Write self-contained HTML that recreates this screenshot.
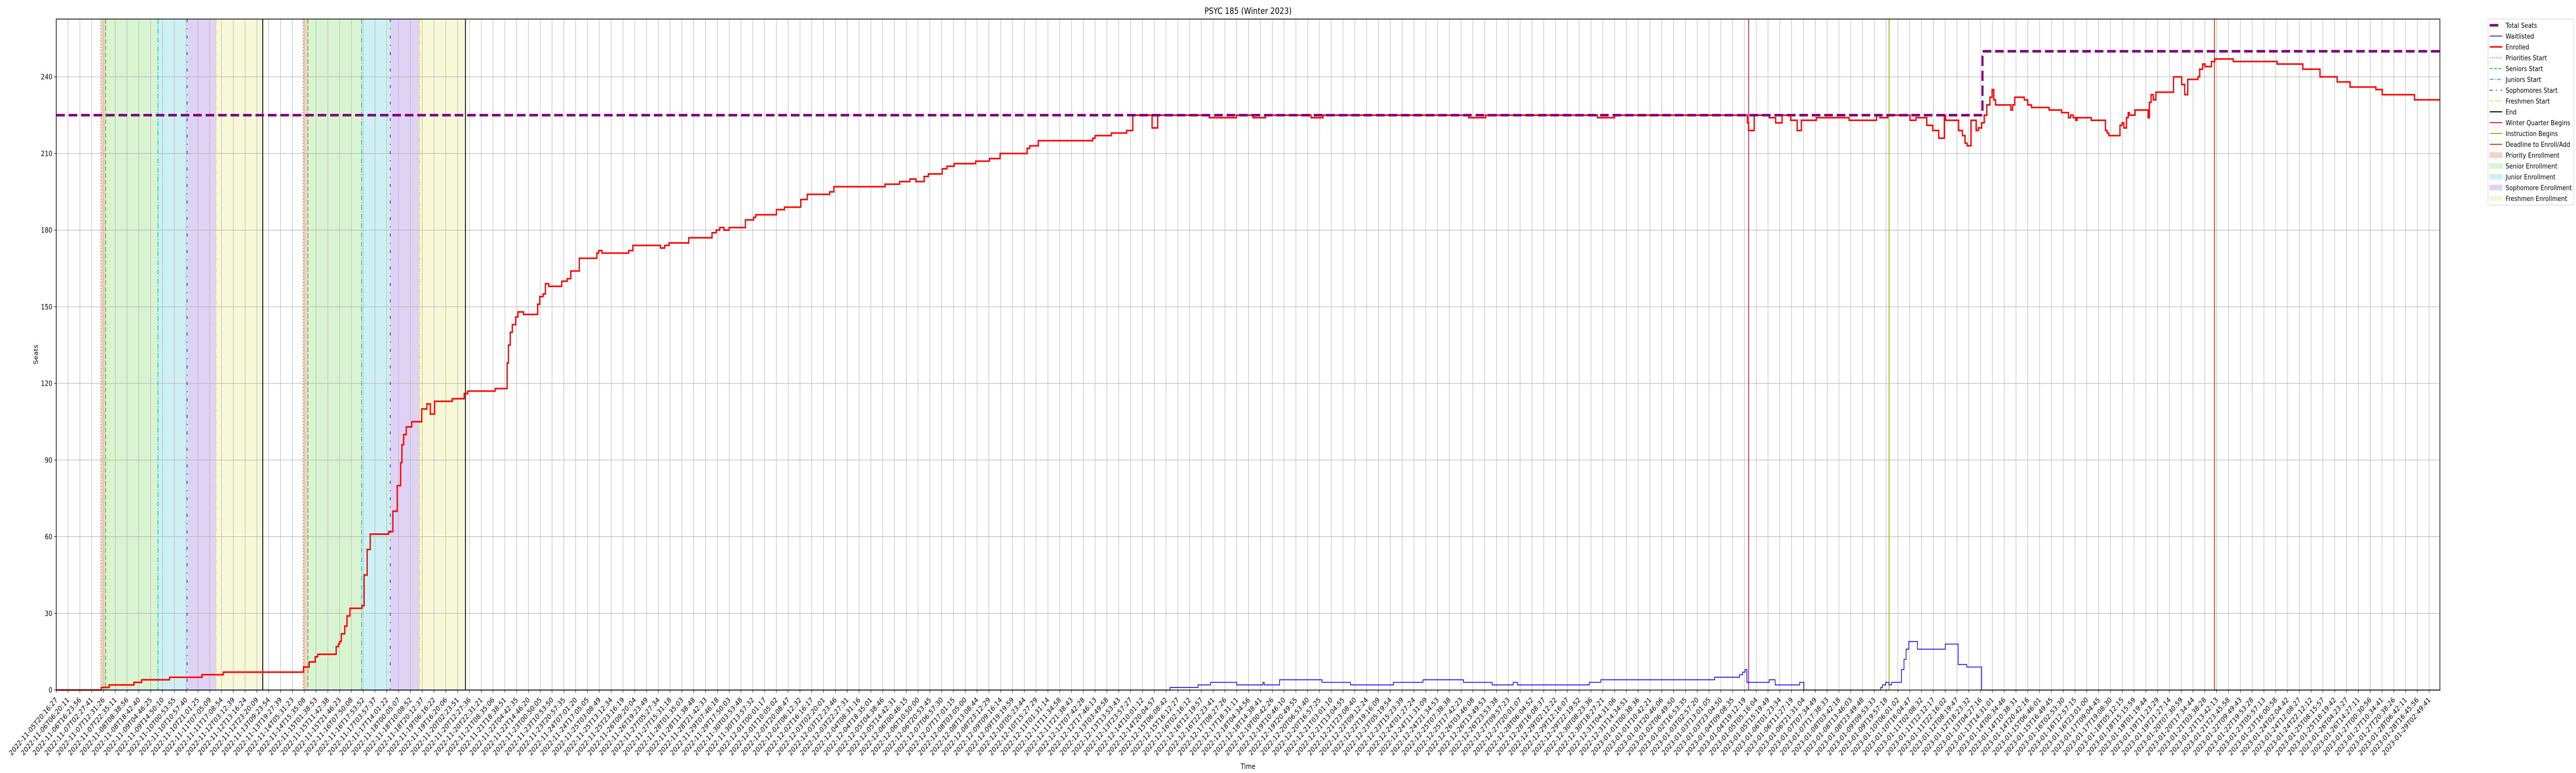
<!DOCTYPE html>
<html><head><meta charset="utf-8"><style>
html,body{margin:0;padding:0;background:#fff;overflow:hidden;width:100%;height:100%;}
svg{display:block;width:100vw;height:100vh;font-family:"DejaVu Sans","Liberation Sans",sans-serif;}
</style></head><body>
<svg id="chart" xmlns="http://www.w3.org/2000/svg" viewBox="0 0 6000 1500" preserveAspectRatio="none">
<rect x="0" y="0" width="6000" height="1500" fill="#fff"/>
<g id="shades"></g>
<g id="grid"></g>
<g id="vlines"></g>
<g id="series"></g>
<rect x="131" y="37" width="5552" height="1302" fill="none" stroke="#000" stroke-width="1.5"/>
<g id="axes"></g>
<text x="2907" y="27" font-size="17" text-anchor="middle">PSYC 185 (Winter 2023)</text>
<text x="2907" y="1492" font-size="14" text-anchor="middle">Time</text>
<text transform="translate(88,688) rotate(-90)" font-size="14" text-anchor="middle">Seats</text>
<g id="legend"></g>
</svg>
<script>
// ---- data (x in hours since 2022-11-05T20:16:27) ----
const enrolledT = [0,38.1,38.4,45.0,66.2,72.8,96.6,124.1,142.4,210.8,215.6,220.7,222.9,238.6,240.5,241.6,243.0,245.9,247.8,250.3,260.6,262.4,265.0,267.6,283.3,286.9,290.6,293.5,294.6,296.1,298.3,303.0,311.5,315.9,318.8,322.4,337.5,347.7,350.6,374.1,384.3,385.4,386.9,388.7,391.6,393.5,398.2,410.3,412.1,415.0,416.9,419.8,430.8,435.5,438.5,445.8,460.8,462.3,465.2,487.9,491.5,515.0,518.6,522.3,539.1,558.9,562.5,565.5,569.1,573.5,587.4,594.4,596.2,613.8,620.7,634.6,640.1,659.2,662.8,706.4,718.8,727.6,732.7,739.7,743.3,755.1,759.1,765.3,783.6,795.3,804.5,827.5,829.7,837.0,883.5,885.4,899.3,912.4,917.6,934.0,938.8,982.7,1005.9,1020.0,1030.7,1069.5,1079.7,1203.8,1218.4,1313.6,1328.2,1437.0,1441.4,1442.4,1447.2,1460.0,1465.5,1471.0,1478.3,1483.8,1487.4,1500.2,1528.1,1551.5,1554.4,1561.0,1580.0,1585.1,1594.3,1599.4,1604.5,1609.3,1610.4,1621.4,1624.7,1626.9,1628.7,1632.0,1636.4,1638.2,1641.1,1643.3,1645.5,1648.1,1650.0,1651.4,1652.9,1666.0,1667.5,1669.3,1677.4,1680.3,1683.6,1698.6,1709.2,1715.1,1716.9,1719.1,1721.3,1722.4,1734.5,1746.6,1748.0,1749.5,1759.0,1760.8,1762.3,1764.5,1766.0,1767.0,1771.8,1783.0,1784.0,1785.5,1787.4,1789.6,1804.6,1811.6,1814.2,1816.7,1825.5,1826.9,1829.5,1831.4,1836.9,1839.8,1855.5,1892.9,1914.8,1929.5,1944.1,1955.1,1977.1,1982.5,2010.0,2032.0];
const enrolledV = [0,0,1,2,3,4,5,6,7,9,11,13,14,17,18,19,22,25,29,32,33,45,55,61,62,70,80,89,96,100,103,105,110,112,108,113,114,116,117,118,128,135,140,143,146,148,147,151,154,155,159,158,160,161,164,169,171,172,171,172,174,173,174,175,177,179,180,181,180,181,184,185,186,188,189,192,194,195,197,198,199,200,199,201,202,204,205,206,207,208,210,212,213,215,216,217,218,219,225,220,225,224,225,224,225,224,225,224,225,224,225,225,222,219,225,224,222,225,223,219,223,224,223,225,224,225,223,224,221,219,216,225,223,219,217,214,213,223,219,220,222,225,229,232,235,231,229,227,229,232,231,229,228,227,226,224,225,224,223,224,223,219,218,217,221,222,220,224,226,225,227,224,230,233,231,234,240,237,233,239,240,243,245,244,246,247,246,245,243,240,238,236,235,233,231,231];
const waitT = [0,949.4,973.2,983.8,1006.1,1028.5,1029.6,1042.7,1078.9,1103.1,1139.7,1164.9,1199.4,1223.9,1241.8,1245.5,1306.6,1316.5,1413.5,1434.7,1437.3,1439.5,1441.0,1460.0,1465.1,1486.0,1489.6,1555.1,1556.6,1559.2,1562.1,1564.3,1572.7,1574.9,1576.7,1579.0,1586.3,1610.1,1621.1,1628.4,1641.1,2032.0];
const waitV = [0,1,2,3,2,3,2,4,3,2,3,4,3,2,3,2,3,4,5,6,7,8,3,4,2,3,0,1,2,3,2,3,8,12,16,19,16,18,10,9,0,0];
const seatsT = [0,1641.8,2032.0];
const seatsV = [225,250,250];
const yTicks = [0,30,60,90,120,150,180,210,240];
const tickStartLabel = "2022-11-05T20:16:27";
const tickEndLabel = "2023-01-29T02:49:41";
const tickCount = 202;
// markers (hours)
const priorityStarts = [38.1,210.5];
const seniorStarts = [42.1,214.5];
const juniorStarts = [86.7,260.2];
const sophStarts = [111.6,284.7];
const freshStarts = [136.2,309.6];
const endTimes = [176.0,348.8];
const winterBegins = [1442.4];
const instructionBegins = [1562.2];
const deadlineAdd = [1839.5];

// ---- axes ----
const X0=131, X1=5683, Y0=1339, Y1=37;
const HMAX=(X1-X0)*0.36594, VMAX=(Y0-Y1)/4.958;
const xs = h => X0 + h/HMAX*(X1-X0);
const ys = v => Y0 - v/VMAX*(Y0-Y1);
const NS="http://www.w3.org/2000/svg";
function mk(tag, parent, attrs){const e=document.createElementNS(NS,tag);for(const k in attrs)e.setAttribute(k,attrs[k]);parent.appendChild(e);return e;}
const G=id=>document.getElementById(id);

// shaded regions
const shadeSets=[[priorityStarts,seniorStarts,'#f4d3c4','priority-enrollment-region'],[seniorStarts,juniorStarts,'#d8f4d0','senior-enrollment-region'],[juniorStarts,sophStarts,'#cff0f2','junior-enrollment-region'],[sophStarts,freshStarts,'#e0d2f4','sophomore-enrollment-region'],[freshStarts,endTimes,'#f7f8d8','freshmen-enrollment-region']];
shadeSets.forEach(s=>{for(let i=0;i<s[0].length;i++){const r=mk('rect',G('shades'),{x:xs(s[0][i]),y:Y1,width:xs(s[1][i])-xs(s[0][i]),height:Y0-Y1,fill:s[2]});

}});

// grid + ticks
const tStart=Date.UTC(2022,10,5,20,16,27), tEnd=Date.UTC(2023,0,29,2,49,41);
function fmt(ms){const d=new Date(ms);const p=n=>String(n).padStart(2,'0');return d.getUTCFullYear()+'-'+p(d.getUTCMonth()+1)+'-'+p(d.getUTCDate())+'T'+p(d.getUTCHours())+':'+p(d.getUTCMinutes())+':'+p(d.getUTCSeconds());}
for(let i=0;i<tickCount;i++){
  const x=X0+i*27.4975;
  const gl=mk('line',G('grid'),{x1:x,x2:x,y1:Y1,y2:Y0,stroke:'#b0b0b0','stroke-width':1});
  
  
  const tk=mk('line',G('axes'),{x1:x,x2:x,y1:Y0,y2:Y0+5,stroke:'#000','stroke-width':1});
  
  
  const lab = i===0?tickStartLabel:(i===tickCount-1?tickEndLabel:fmt(tStart+(tEnd-tStart)*i/(tickCount-1)));
  const t=mk('text',G('axes'),{transform:`translate(${x+4},1359) rotate(-45)`,'font-size':14,'text-anchor':'end'});
  t.textContent=lab;
  
  
}
yTicks.forEach(v=>{const y=ys(v);
  const gl=mk('line',G('grid'),{x1:X0,x2:X1,y1:y,y2:y,stroke:'#b0b0b0','stroke-width':1});
  
  
  const tk=mk('line',G('axes'),{x1:X0-5,x2:X0,y1:y,y2:y,stroke:'#000','stroke-width':1});
  
  
  const t=mk('text',G('axes'),{x:X0-9,y:y+5,'font-size':14,'text-anchor':'end'});t.textContent=v;
  
  
});

// vertical marker lines
const vSets=[[priorityStarts,'#e8743b','2,4',2,'priorities-start-line'],[seniorStarts,'#44cc22','9,4',2,'seniors-start-line'],[juniorStarts,'#1cc8d4','10,3,2,3',2,'juniors-start-line'],[sophStarts,'#6a2ee0','6,12,2,12',2,'sophomores-start-line'],[freshStarts,'#e2e03a','8,3,2,3,2,3',2,'freshmen-start-line'],[endTimes,'#000','',2,'end-line'],[winterBegins,'#e0169e','',2,'winter-quarter-begins-line'],[instructionBegins,'#8db814','',2,'instruction-begins-line'],[deadlineAdd,'#d0451f','',2,'deadline-line']];
vSets.forEach(s=>s[0].forEach(h=>{const a={x1:xs(h),x2:xs(h),y1:Y1,y2:Y0,stroke:s[1],'stroke-width':s[3]};if(s[2])a['stroke-dasharray']=s[2];const l=mk('line',G('vlines'),a);

}));

// step paths
function stepPath(T,V){let d=`M${xs(T[0])},${ys(V[0])}`;for(let i=1;i<T.length;i++){d+=`H${xs(T[i])}V${ys(V[i])}`;}return d;}
const wp=mk('path',G('series'),{d:stepPath(waitT,waitV),fill:'none',stroke:'#0000ff','stroke-width':1.6});


const ep=mk('path',G('series'),{d:stepPath(enrolledT,enrolledV),fill:'none',stroke:'#ff0000','stroke-width':3});


const sp=mk('path',G('series'),{d:stepPath(seatsT,seatsV),fill:'none',stroke:'#800080','stroke-width':5,'stroke-dasharray':'20,9'});



// legend
const L=G('legend');
mk('rect',L,{x:5795,y:37,width:200,height:361,rx:3,fill:'#fff',stroke:'#cccccc','stroke-width':1});
const legendItems=[
 ['Total Seats','line','#800080',5,''],['Waitlisted','line','#0000ff',1.5,''],['Enrolled','line','#ff0000',3,''],
 ['Priorities Start','line','#e8743b',2,'2,3'],['Seniors Start','line','#44cc22',2,'7,3'],['Juniors Start','line','#1cc8d4',2,'9,3,2,3'],
 ['Sophomores Start','line','#6a2ee0',2,'6,9,2,9'],['Freshmen Start','line','#e2e03a',2,'6,2,2,2,2,2'],['End','line','#000',2,''],
 ['Winter Quarter Begins','line','#e0169e',2,''],['Instruction Begins','line','#8db814',2,''],['Deadline to Enroll/Add','line','#d0451f',2,''],
 ['Priority Enrollment','rect','#f4d3c4'],['Senior Enrollment','rect','#d8f4d0'],['Junior Enrollment','rect','#cff0f2'],
 ['Sophomore Enrollment','rect','#e0d2f4'],['Freshmen Enrollment','rect','#f7f8d8']];
legendItems.forEach((it,i)=>{
  const cy=49+i*21;
  const g=mk('g',L,{});
  
  
  if(it[1]==='line'){const a={x1:5799,x2:5828,y1:cy,y2:cy,stroke:it[2],'stroke-width':it[3]};if(it[4])a['stroke-dasharray']=it[4];
    if(i===0){a.x2=5819;}
    mk('line',g,a);}
  else mk('rect',g,{x:5799,y:cy-5,width:29,height:10,fill:it[2],stroke:it[2]});
  const t=mk('text',g,{x:5836,y:cy+5,'font-size':13.5});t.textContent=it[0];
});
</script>
</body></html>
